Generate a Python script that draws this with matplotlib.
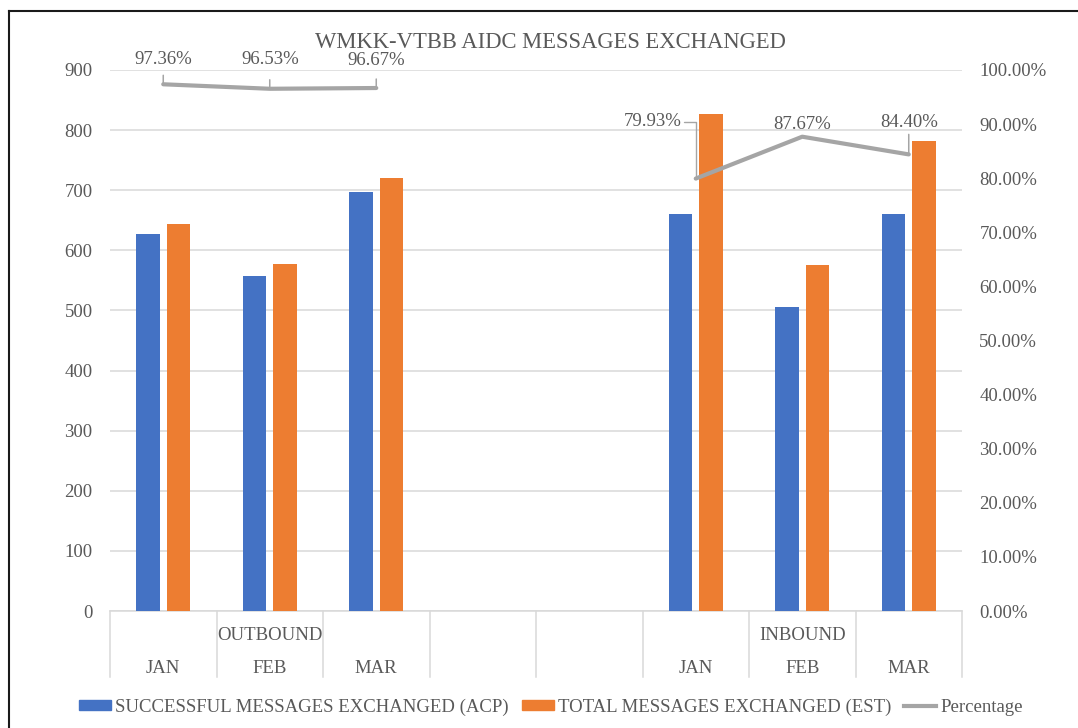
import numpy as np
import matplotlib.pyplot as plt
from matplotlib.lines import Line2D
from matplotlib.patches import Patch
from matplotlib.ticker import FuncFormatter

# chart values
months = ['JAN', 'FEB', 'MAR', '', '', 'JAN', 'FEB', 'MAR']
groups = ['OUTBOUND', 'INBOUND']
group_slot = [1, 6]
acp = [627, 557, 697, np.nan, np.nan, 661, 505, 660]
est = [644, 577, 721, np.nan, np.nan, 827, 576, 782]
pct = [97.36, 96.53, 96.67, np.nan, np.nan, 79.93, 87.67, 84.40]

# label offsets in pixels (dx, dy) and leader line: length in px, 'elbow' or 0
label_off = [(0, 25), (0, 29), (0, 28), None, None, (-43, 57), (0, 12), (0, 32)]
label_leader = [9, 9, 9, None, None, 'elbow', 0, 20]

BLUE = '#4472C4'
ORANGE = '#ED7D31'
GREY = '#A5A5A5'
TXT = '#595959'
GRID = '#D9D9D9'

plt.rcParams['font.family'] = ['Liberation Serif', 'DejaVu Serif']
FS = 13.5

W, H = 1078, 728
fig = plt.figure(figsize=(W / 100, H / 100), dpi=100)
ax = fig.add_axes([110 / W, 1 - 611 / H, (962 - 110) / W, (611 - 70) / H])
ax2 = ax.twinx()

x = np.arange(len(months))
bw = 0.22
ax.bar(x - 0.143, acp, bw, color=BLUE, zorder=3)
ax.bar(x + 0.143, est, bw, color=ORANGE, zorder=3)

ax.set_xlim(-0.5, len(months) - 0.5)
ax.set_ylim(0, 900)
ax.set_yticks(range(0, 901, 100))
ax.yaxis.grid(True, color=GRID, lw=1.1, zorder=0)
ax.set_axisbelow(True)
ax.set_xticks([])
for s in ['top', 'left', 'right']:
    ax.spines[s].set_visible(False)
    ax2.spines[s].set_visible(False)
ax.spines['bottom'].set_color(GRID)
ax.spines['bottom'].set_linewidth(1.1)
ax2.spines['bottom'].set_visible(False)
ax.tick_params(axis='y', length=0, pad=12.5, labelsize=FS, labelcolor=TXT)

# percentage line on secondary axis
pv = np.array(pct) / 100
ax2.plot(x, pv, color=GREY, lw=3, solid_capstyle='round', zorder=5)
ax2.set_ylim(0, 1)
ax2.set_yticks(np.arange(0, 1.01, 0.1))
ax2.yaxis.set_major_formatter(FuncFormatter(lambda v, p: f'{v * 100:.2f}%'))
ax2.tick_params(axis='y', length=0, pad=12.5, labelsize=FS, labelcolor=TXT)

for i, p in enumerate(pv):
    if np.isnan(p):
        continue
    dx, dy = label_off[i]
    lead = label_leader[i]
    props = None
    if lead == 'elbow':
        props = dict(arrowstyle='-', color=GREY, lw=1, shrinkA=0, shrinkB=0,
                     relpos=(1, 0.5), connectionstyle='angle,angleA=0,angleB=90,rad=0')
    elif lead:
        # short vertical leader line under the label
        ax2.annotate('', xy=(x[i], p), xytext=(0, lead), textcoords='offset pixels',
                     arrowprops=dict(arrowstyle='-', color=GREY, lw=1.1,
                                     shrinkA=0, shrinkB=0), zorder=4)
    ax2.annotate(f'{pct[i]:.2f}%', xy=(x[i], p), xytext=(dx, dy),
                 textcoords='offset pixels', ha='center', va='center',
                 fontsize=FS, color=TXT, arrowprops=props, zorder=6)

# multi-level category axis
sep_bottom = -(677 - 611) / (611 - 70)
for k in range(len(months) + 1):
    ax.plot([k - 0.5, k - 0.5], [0, sep_bottom], color=GRID, lw=1.1,
            transform=ax.get_xaxis_transform(), clip_on=False)
for i, m in enumerate(months):
    ax.text(x[i], -(673 - 611) / (611 - 70), m, transform=ax.get_xaxis_transform(),
            ha='center', va='baseline', fontsize=FS, color=TXT)
for g, s in zip(groups, group_slot):
    ax.text(s, -(640 - 611) / (611 - 70), g, transform=ax.get_xaxis_transform(),
            ha='center', va='baseline', fontsize=FS, color=TXT)

fig.text(550 / W, 1 - 48 / H, 'WMKK-VTBB AIDC MESSAGES EXCHANGED',
         ha='center', va='baseline', fontsize=16.3, color=TXT)

handles = [Patch(color=BLUE, label='SUCCESSFUL MESSAGES EXCHANGED (ACP)'),
           Patch(color=ORANGE, label='TOTAL MESSAGES EXCHANGED (EST)'),
           Line2D([], [], color=GREY, lw=3, label='Percentage')]
leg = fig.legend(handles=handles, loc='center', bbox_to_anchor=(551 / W, 1 - 707 / H),
                 ncol=3, frameon=False, fontsize=FS, handlelength=1.7, handleheight=0.45,
                 handletextpad=0.21, columnspacing=0.7, borderpad=0, borderaxespad=0)
for t in leg.get_texts():
    t.set_color(TXT)

# chart frame
fig.add_artist(Line2D([9 / W, 9 / W], [0, 1 - 11 / H], color='#1a1a1a', lw=1.5,
                      transform=fig.transFigure))
fig.add_artist(Line2D([9 / W, 1], [1 - 11 / H, 1 - 11 / H], color='#1a1a1a', lw=1.5,
                      transform=fig.transFigure))

fig.savefig('out.png', dpi=100)
